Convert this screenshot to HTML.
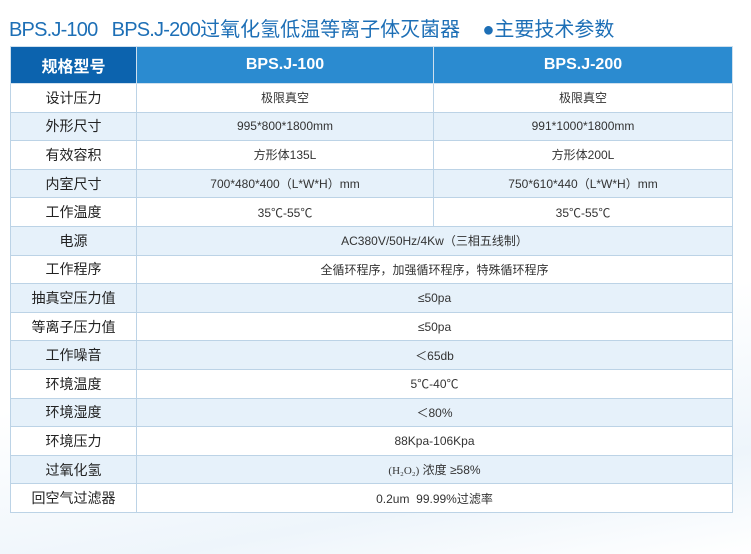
<!DOCTYPE html>
<html><head><meta charset="utf-8"><style>
body{margin:0;width:751px;height:554px;overflow:hidden;background:linear-gradient(170deg,#fff 60%,#eef5fb 85%,#fff 100%);font-family:"Liberation Sans","Noto Sans CJK SC",sans-serif;position:relative}
.t{position:absolute;left:9px;top:13px;font-size:20px;color:#1d6fb6;white-space:nowrap}
.t .n{letter-spacing:-0.8px}
table{position:absolute;left:10px;top:46px;width:722px;border-collapse:collapse;table-layout:fixed}
td{border:1px solid #bcd3e6;text-align:center;font-size:12px;color:#333;height:27.6px;padding:0}
td:first-child{font-size:14px;color:#222}
tr.h td{height:36px;color:#fff;font-weight:bold;font-size:16px;background:#2b8bd0;border-color:#cfe0ee}
tr.h td:first-child{background:#0c63ae;font-size:16px}
tr:nth-child(odd):not(.h) td{background:#e6f1fa}
tr:nth-child(even) td{background:#fff}
</style></head><body>
<div class="t"><span class="n">BPS.J-100&nbsp;&nbsp; BPS.J-200</span>过氧化氢低温等离子体灭菌器&nbsp;&nbsp;&nbsp; ●主要技术参数</div>
<table>
<colgroup><col style="width:126px"><col style="width:297px"><col style="width:299px"></colgroup>
<tr class="h"><td>规格型号</td><td>BPS.J-100</td><td>BPS.J-200</td></tr>
<tr><td>设计压力</td><td>极限真空</td><td>极限真空</td></tr>
<tr><td>外形尺寸</td><td>995*800*1800mm</td><td>991*1000*1800mm</td></tr>
<tr><td>有效容积</td><td>方形体135L</td><td>方形体200L</td></tr>
<tr><td>内室尺寸</td><td>700*480*400（L*W*H）mm</td><td>750*610*440（L*W*H）mm</td></tr>
<tr><td>工作温度</td><td>35℃-55℃</td><td>35℃-55℃</td></tr>
<tr><td>电源</td><td colspan="2">AC380V/50Hz/4Kw（三相五线制）</td></tr>
<tr><td>工作程序</td><td colspan="2">全循环程序，加强循环程序，特殊循环程序</td></tr>
<tr><td>抽真空压力值</td><td colspan="2">≤50pa</td></tr>
<tr><td>等离子压力值</td><td colspan="2">≤50pa</td></tr>
<tr><td>工作噪音</td><td colspan="2">＜65db</td></tr>
<tr><td>环境温度</td><td colspan="2">5℃-40℃</td></tr>
<tr><td>环境湿度</td><td colspan="2">＜80%</td></tr>
<tr><td>环境压力</td><td colspan="2">88Kpa-106Kpa</td></tr>
<tr><td>过氧化氢</td><td colspan="2"><span style="font-family:'Liberation Serif',serif;font-size:11px">(H₂O₂)</span> 浓度 ≥58%</td></tr>
<tr><td>回空气过滤器</td><td colspan="2">0.2um&nbsp; 99.99%过滤率</td></tr>
</table>
</body></html>
